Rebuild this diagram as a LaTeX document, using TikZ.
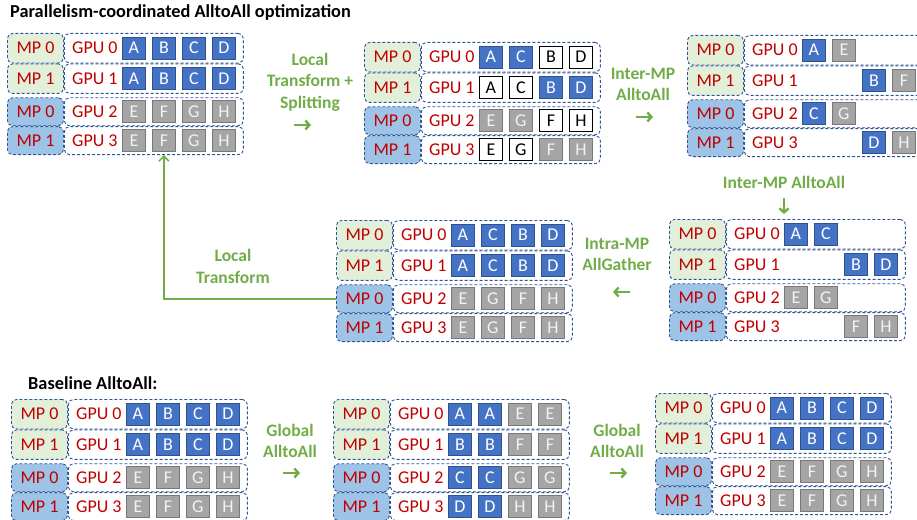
\documentclass[tikz,border=0pt]{standalone}
\usepackage{fontspec}
\setmainfont{Carlito}
\usetikzlibrary{calc,positioning,arrows.meta}

\definecolor{gpured}{RGB}{192,0,0}
\definecolor{stepgreen}{RGB}{112,173,71}
\definecolor{mptop}{RGB}{226,240,217}
\definecolor{mpbot}{RGB}{157,195,230}
\definecolor{dashblue}{RGB}{47,85,151}
\definecolor{blockblue}{RGB}{68,114,196}
\definecolor{blockblueline}{RGB}{47,82,143}
\definecolor{blockgray}{RGB}{165,165,165}
\definecolor{blockgrayline}{RGB}{120,120,120}

% one row: id, position, group (top/bot), MP text, GPU text, cells slot/letter/style
\newcommand{\gpurow}[6]{%
  \node[mpbox, #3grp, fill=mp#3, anchor=north west] (#1mp) at #2 {#4};
  \node[gpubox, #3grp, anchor=north west] (#1gpu) at (#1mp.north east) {};
  \node[gpulabel] (#1lab) at ($(#1gpu.west)+(31,0)$) {#5};
  \foreach \s/\l/\c in {#6}
    \node[cell, \c] (#1\l\s) at ($(#1gpu.west)+(40+30*\s,0)$) {\l};
}
% four rows: id, x, y, cells of GPU 0..3
\newcommand{\gpublock}[7]{%
  \gpurow{#1a}{(#2,#3)}{top}{MP 0}{GPU 0}{#4}
  \gpurow{#1b}{(#1amp.south west)}{top}{MP 1}{GPU 1}{#5}
  \gpurow{#1c}{($(#1bmp.south west)+(0,3.5)$)}{bot}{MP 0}{GPU 2}{#6}
  \gpurow{#1d}{(#1cmp.south west)}{bot}{MP 1}{GPU 3}{#7}
}

\begin{document}
\begin{tikzpicture}[x=1pt, y=-1pt,
	mpbox/.style={draw=dashblue, dashed, dash pattern=on 3pt off 2pt, line width=0.9pt, rounded corners=5pt,
		minimum width=56pt, inner sep=0pt, text=gpured, font=\fontsize{18}{22}\selectfont},
	gpubox/.style={draw=dashblue, dashed, dash pattern=on 3pt off 2pt, line width=0.9pt, rounded corners=5pt,
		fill=white, minimum width=179pt, inner sep=0pt},
	topgrp/.style={minimum height=29.5pt},
	botgrp/.style={minimum height=28pt},
	gpulabel/.style={text=gpured, inner sep=0pt, font=\fontsize{18}{22}\selectfont},
	cell/.style={minimum width=23pt, minimum height=22pt, inner sep=0pt, line width=0.8pt,
		font=\fontsize{18}{22}\selectfont},
	cellblue/.style={fill=blockblue, draw=blockblueline, text=white},
	cellgray/.style={fill=blockgray, draw=blockgrayline, text=white!95!black},
	cellwhite/.style={fill=white, draw=black, text=black},
	steplabel/.style={text=stepgreen, align=center, inner sep=0pt, font=\bfseries\fontsize{17.5}{21.5}\selectfont},
	steparrow/.style={draw=stepgreen, line width=2.4pt, -{Straight Barb[length=4pt, width=9pt]}},
	flowline/.style={draw=stepgreen, line width=1.5pt, -{Straight Barb[length=5pt, width=10pt]}},
	title/.style={anchor=west, inner sep=0pt, font=\bfseries\fontsize{18.3}{22}\selectfont},
	]
	\useasboundingbox (0,0) rectangle (917,519);

	\node[title] (toptitle) at (10,13) {Parallelism-coordinated AlltoAll optimization};
	\node[title] (basetitle) at (28,383) {Baseline AlltoAll:};

	% parallelism-coordinated path
	\gpublock{b1}{7}{33}
		{1/A/cellblue,2/B/cellblue,3/C/cellblue,4/D/cellblue}
		{1/A/cellblue,2/B/cellblue,3/C/cellblue,4/D/cellblue}
		{1/E/cellgray,2/F/cellgray,3/G/cellgray,4/H/cellgray}
		{1/E/cellgray,2/F/cellgray,3/G/cellgray,4/H/cellgray}
	\gpublock{b2}{364}{42}
		{1/A/cellblue,2/C/cellblue,3/B/cellwhite,4/D/cellwhite}
		{1/A/cellwhite,2/C/cellwhite,3/B/cellblue,4/D/cellblue}
		{1/E/cellgray,2/G/cellgray,3/F/cellwhite,4/H/cellwhite}
		{1/E/cellwhite,2/G/cellwhite,3/F/cellgray,4/H/cellgray}
	\gpublock{b3}{687}{35}
		{1/A/cellblue,2/E/cellgray}
		{3/B/cellblue,4/F/cellgray}
		{1/C/cellblue,2/G/cellgray}
		{3/D/cellblue,4/H/cellgray}
	\gpublock{b4}{669}{219}
		{1/A/cellblue,2/C/cellblue}
		{3/B/cellblue,4/D/cellblue}
		{1/E/cellgray,2/G/cellgray}
		{3/F/cellgray,4/H/cellgray}
	\gpublock{b5}{336}{220}
		{1/A/cellblue,2/C/cellblue,3/B/cellblue,4/D/cellblue}
		{1/A/cellblue,2/C/cellblue,3/B/cellblue,4/D/cellblue}
		{1/E/cellgray,2/G/cellgray,3/F/cellgray,4/H/cellgray}
		{1/E/cellgray,2/G/cellgray,3/F/cellgray,4/H/cellgray}

	% baseline path
	\gpublock{b6}{11}{399}
		{1/A/cellblue,2/B/cellblue,3/C/cellblue,4/D/cellblue}
		{1/A/cellblue,2/B/cellblue,3/C/cellblue,4/D/cellblue}
		{1/E/cellgray,2/F/cellgray,3/G/cellgray,4/H/cellgray}
		{1/E/cellgray,2/F/cellgray,3/G/cellgray,4/H/cellgray}
	\gpublock{b7}{333}{399}
		{1/A/cellblue,2/A/cellblue,3/E/cellgray,4/E/cellgray}
		{1/B/cellblue,2/B/cellblue,3/F/cellgray,4/F/cellgray}
		{1/C/cellblue,2/C/cellblue,3/G/cellgray,4/G/cellgray}
		{1/D/cellblue,2/D/cellblue,3/H/cellgray,4/H/cellgray}
	\gpublock{b8}{655}{393}
		{1/A/cellblue,2/B/cellblue,3/C/cellblue,4/D/cellblue}
		{1/A/cellblue,2/B/cellblue,3/C/cellblue,4/D/cellblue}
		{1/E/cellgray,2/F/cellgray,3/G/cellgray,4/H/cellgray}
		{1/E/cellgray,2/F/cellgray,3/G/cellgray,4/H/cellgray}

	% step labels
	\node[steplabel] (split) at (310,82) {Local\\Transform +\\Splitting};
	\node[steplabel] (intera) at (643,84.5) {Inter-MP\\AlltoAll};
	\node[steplabel] (interb) at (784,182) {Inter-MP AlltoAll};
	\node[steplabel] (gather) at (617,254.5) {Intra-MP\\AllGather};
	\node[steplabel] (local) at (233,266.5) {Local\\Transform};
	\node[steplabel] (globala) at (290,441) {Global\\AlltoAll};
	\node[steplabel] (globalb) at (617,441) {Global\\AlltoAll};

	\coordinate (splitarr) at (294,125);
	\coordinate (interaarr) at (636,117);
	\coordinate (interbarr) at (784,198);
	\coordinate (gatherarr) at (630,292);
	\coordinate (globalaarr) at (283,473);
	\coordinate (globalbarr) at (610,473);

	\draw[steparrow] (splitarr) -- ++(17,0);
	\draw[steparrow] (interaarr) -- ++(17,0);
	\draw[steparrow] (interbarr) -- ++(0,16);
	\draw[steparrow] (gatherarr) -- ++(-17,0);
	\draw[steparrow] (globalaarr) -- ++(17,0);
	\draw[steparrow] (globalbarr) -- ++(17,0);

	\draw[flowline] (b5cmp.west) -| (b1dF2 |- b1dgpu.south);

\end{tikzpicture}
\end{document}
